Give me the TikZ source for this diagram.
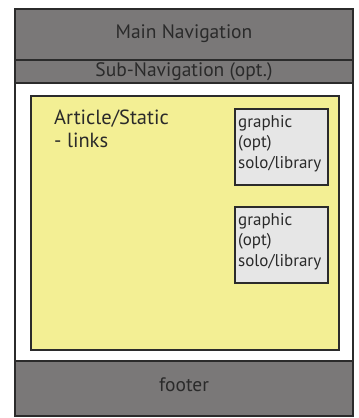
\documentclass[tikz,border=0pt]{standalone}
\usepackage{fontspec}
\setmainfont{PT Sans}
\definecolor{navgrey}{HTML}{7A7878}
\definecolor{edge}{HTML}{2B2B2B}
\definecolor{pageyellow}{HTML}{F3EF94}
\definecolor{boxgrey}{HTML}{E6E6E6}
\definecolor{txt}{HTML}{2A2A2A}
\begin{document}
\begin{tikzpicture}[x=1pt,y=-1pt,
  band/.style={draw=edge,line width=2pt,fill=navgrey},
  lbl/.style={text=txt,font=\fontsize{19.5}{22}\selectfont,inner sep=0pt},
  gbox/.style={draw=edge,line width=2.5pt,fill=boxgrey},
  gtext/.style={text=txt,font=\fontsize{17}{20.5}\selectfont,align=left,anchor=north west,inner sep=0pt}]
\useasboundingbox (0,0) rectangle (359,418);
% outer frame
\draw[draw=edge,line width=2pt,fill=white] (15,9) rectangle (353,416);
\draw[band] (15,9) rectangle (353,60);
\draw[band] (15,60) rectangle (353,83);
\draw[band] (15,361) rectangle (353,416);
\node[lbl] (main) at (184,33.5) {Main Navigation};
\node[lbl] (sub) at (184,72) {Sub-Navigation (opt.)};
\node[lbl] (foot) at (184,385) {footer};
% content
\draw[draw=edge,line width=2pt,fill=pageyellow] (31,96) rectangle (339,350);
\node[text=txt,font=\fontsize{20.5}{23}\selectfont,align=left,anchor=north west,inner sep=0pt] (art) at (54,110) {Article/Static\\- links};
\draw[gbox] (235,109) rectangle (328,185);
\draw[gbox] (235,207) rectangle (328,283);
\node[gtext] (g1) at (238,115) {graphic\\(opt)\\solo/library};
\node[gtext] (g2) at (238,213) {graphic\\(opt)\\solo/library};
\end{tikzpicture}
\end{document}
